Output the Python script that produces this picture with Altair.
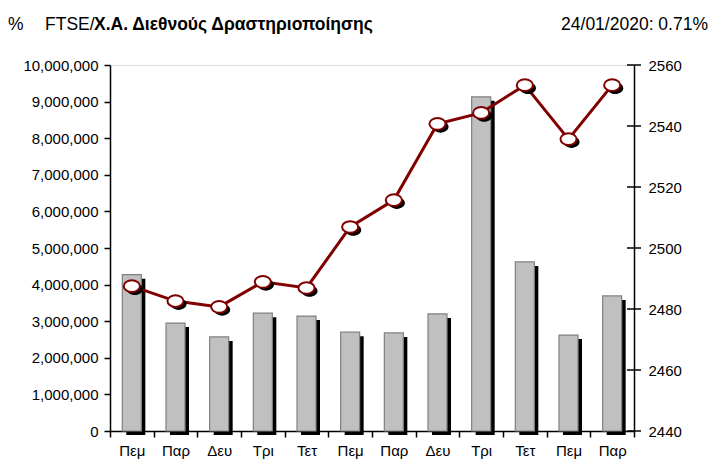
import altair as alt
import pandas as pd

days = ["Πεμ", "Παρ", "Δευ", "Τρι", "Τετ", "Πεμ", "Παρ", "Δευ", "Τρι", "Τετ", "Πεμ", "Παρ"]
volume = [4270000, 2950000, 2570000, 3220000, 3140000, 2700000, 2680000, 3200000, 9130000, 4620000, 2620000, 3690000]
index_vals = [2487.5, 2482.6, 2480.7, 2488.9, 2486.9, 2506.9, 2515.7, 2540.7, 2544.3, 2553.4, 2535.7, 2553.4]
right_ticks = [2440, 2460, 2480, 2500, 2520, 2540, 2560]

keys = [f"{i:02d}" for i in range(len(days))]
df = pd.DataFrame({"key": keys, "day": days, "volume": volume, "idx": index_vals})
tick_df = pd.DataFrame({"idx": right_ticks})
label_expr = "{" + ",".join(f"'{k}':'{d}'" for k, d in zip(keys, days)) + "}[datum.value]"

FONT = "Liberation Sans"
TFONT = "Liberation Sans"

x = alt.X("key:N", sort=keys, title=None,
          scale=alt.Scale(paddingInner=0, paddingOuter=0),
          axis=alt.Axis(labelExpr=label_expr, labelAngle=0, tickBand="extent",
                        domainColor="black", tickColor="black", tickSize=6,
                        labelFont=FONT, labelFontSize=15, labelColor="black",
                        labelPadding=6, domainWidth=1.5, tickWidth=1.5))

ybar = alt.Y("volume:Q", title=None,
             scale=alt.Scale(domain=[0, 10000000]),
             axis=alt.Axis(values=list(range(0, 10000001, 1000000)), format=",d",
                           grid=False, domainColor="black", tickColor="black",
                           tickSize=6, labelFont=FONT, labelFontSize=15,
                           labelColor="black", labelPadding=6, domainWidth=1.5, tickWidth=1.5))

base = alt.Chart(df)
shadow_bar = base.mark_bar(size=19, color="black", xOffset=4, yOffset=4).encode(x=x, y=ybar)
gray_bar = base.mark_bar(size=19, color="#C0C0C0", stroke="#808080", strokeWidth=1.2).encode(x=x, y=ybar)
bars = alt.layer(shadow_bar, gray_bar)

yline = alt.Y("idx:Q", title=None,
              scale=alt.Scale(domain=[2440, 2560]),
              axis=alt.Axis(orient="right", values=right_ticks, format="d",
                            grid=False, domainColor="black", ticks=False,
                            labelFont=FONT, labelFontSize=15,
                            labelColor="black", labelPadding=14, domainWidth=1.5))

ellipse = "M -1 0 A 1 0.72 0 1 0 1 0 A 1 0.72 0 1 0 -1 0 Z"
rticks = alt.Chart(tick_df).mark_tick(orient="horizontal", size=14, thickness=1.5,
                                      color="black", opacity=1).encode(
    x=alt.value(524), y=yline)
line = base.mark_line(color="#800000", strokeWidth=3).encode(x=x, y=yline)
pt_shadow = base.mark_point(shape=ellipse, size=260, filled=True, color="black",
                            opacity=1, xOffset=3, yOffset=3).encode(x=x, y=yline)
pts = base.mark_point(shape=ellipse, size=260, filled=True, fill="white", stroke="#800000",
                      strokeWidth=2, opacity=1).encode(x=x, y=yline)
lines = alt.layer(rticks, line, pt_shadow, pts)

tdf = pd.DataFrame({"a": [0]})
t1 = alt.Chart(tdf).mark_text(text="%", font=TFONT, fontSize=17.5, align="left",
                              baseline="alphabetic", color="black").encode(
    x=alt.value(-102), y=alt.value(-35))
t2 = alt.Chart(tdf).mark_text(text="FTSE/", font=TFONT, fontSize=17.5, align="left",
                              baseline="alphabetic", color="black").encode(
    x=alt.value(-65), y=alt.value(-35))
t3 = alt.Chart(tdf).mark_text(text="Χ.Α. Διεθνούς Δραστηριοποίησης", font=TFONT, fontSize=17.5,
                              fontWeight="bold", align="left", baseline="alphabetic",
                              color="black").encode(x=alt.value(-16), y=alt.value(-35))
t4 = alt.Chart(tdf).mark_text(text="24/01/2020: 0.71%", font=TFONT, fontSize=17.5, align="right",
                              baseline="alphabetic", color="black").encode(
    x=alt.value(598), y=alt.value(-35))

chart = alt.layer(bars, lines, t1, t2, t3, t4).resolve_scale(y="independent").properties(
    width=524, height=366,
    autosize=alt.AutoSizeParams(type="none"),
    padding={"left": 102, "top": 57, "right": 75, "bottom": 31},
).configure_view(stroke=None).configure(background="white")

chart.save("out.html", embed_options={"renderer": "svg", "actions": False})
